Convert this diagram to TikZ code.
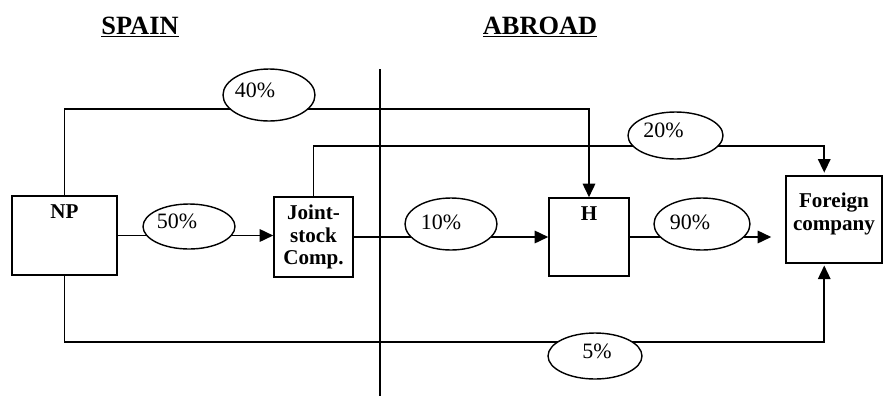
\documentclass[tikz,border=0pt]{standalone}
\usepackage{fontspec}
\setmainfont{Liberation Serif}
\usetikzlibrary{arrows.meta,positioning,shapes.geometric,calc,backgrounds}

\begin{document}
\begin{tikzpicture}[x=0.02cm, y=-0.02cm, font=\fontsize{12}{12.8}\selectfont,
    box/.style={draw, line width=0.9pt, fill=white, inner sep=0pt},
    boxlabel/.style={anchor=north, inner sep=0pt, align=center, font=\fontsize{12}{13}\selectfont\bfseries},
    share/.style={ellipse, draw, line width=0.8pt, fill=white, inner sep=0pt},
    pct/.style={font=\fontsize{12.5}{14}\selectfont, xshift=-0.24cm, yshift=0.1cm},
    title/.style={anchor=base, font=\fontsize{15}{17}\selectfont\bfseries},
    arr/.style={-{Triangle[length=0.27cm, width=0.25cm]}, line width=0.9pt}]

    \useasboundingbox (0,0) rectangle (883,400);

    \node[title] (spain) at (140,34) {\underline{SPAIN}};
    \node[title] (abroad) at (540,34) {\underline{ABROAD}};

    \node[box, minimum width=2.1cm, minimum height=1.58cm,
          label={[boxlabel, yshift=-0.18cm]north:NP}] (np) at (64.5,235.5) {};
    \node[box, minimum width=1.58cm, minimum height=1.6cm, align=center,
          font=\fontsize{12}{12.8}\selectfont\bfseries] (jsc) at (313.5,237) {Joint-\\stock\\Comp.};
    \node[box, minimum width=1.6cm, minimum height=1.56cm,
          label={[boxlabel, yshift=-0.18cm]north:H}] (h) at (589,237) {};
    \node[box, minimum width=1.92cm, minimum height=1.74cm,
          label={[boxlabel, yshift=-0.34cm]north:Foreign\\company}] (fc) at (834,219.5) {};

    \node[share, minimum width=1.84cm, minimum height=0.9cm, label={[pct]center:50\%}] (p50) at (189,226.5) {};
    \node[share, minimum width=1.84cm, minimum height=1.04cm, label={[pct, xshift=-0.04cm]center:40\%}] (p40) at (269,95) {};
    \node[share, minimum width=1.84cm, minimum height=1.04cm, label={[pct, xshift=0.04cm, yshift=-0.06cm]center:10\%}] (p10) at (451,224) {};
    \node[share, minimum width=1.92cm, minimum height=1.04cm, label={[pct, yshift=-0.06cm]center:90\%}] (p90) at (702,224) {};
    \node[share, minimum width=1.9cm, minimum height=0.94cm, label={[pct]center:20\%}] (p20) at (675.5,135.5) {};
    \node[share, minimum width=1.88cm, minimum height=0.92cm, label={[pct, xshift=0.28cm]center:5\%}] (p5) at (595,356) {};

    \coordinate (lvl40) at (0,109);
    \coordinate (lvl20) at (0,146);
    \coordinate (lvl5) at (0,342);
    \coordinate (tip20) at ($(fc.north west)!0.4!(fc.north east)$);
    \coordinate (tip5) at ($(fc.south west)!0.4!(fc.south east)$);

    \begin{scope}[on background layer]
    \draw[arr] (np.north) |- (h.north |- lvl40) -- (h.north);
    \draw[arr, shorten >=1.5pt] (jsc.north) |- (tip20 |- lvl20) -- (tip20);
    \draw[arr, shorten >=1pt] (np.south) |- (tip5 |- lvl5) -- (tip5);
    \draw[arr] (np.east) -- (np.east -| jsc.west);
    \draw[arr] (jsc.east) -- (h.west);
    \draw[arr, shorten >=0.28cm] (h.east) -- (h.east -| fc.west);
    \end{scope}

    \draw[line width=0.6pt] (380,69) -- (380,396);
\end{tikzpicture}
\end{document}
